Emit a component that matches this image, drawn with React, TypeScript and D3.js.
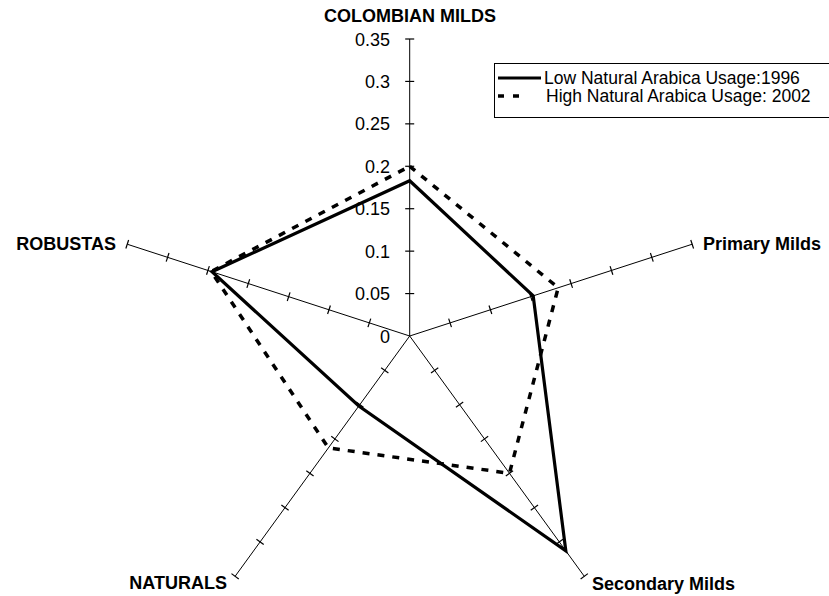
import * as d3 from "d3";

const categories = ["COLOMBIAN MILDS", "Primary Milds", "Secondary Milds", "NATURALS", "ROBUSTAS"];
const low1996 = [0.183, 0.153, 0.313, 0.102, 0.245];
const high2002 = [0.2, 0.184, 0.2, 0.163, 0.246];
const ticks = [0, 0.05, 0.1, 0.15, 0.2, 0.25, 0.3, 0.35];
const seriesNames = ["Low Natural Arabica Usage:1996", "High Natural Arabica Usage: 2002"];

const W = 829;
const H = 596;
const cx = 409.7;
const cy = 336;

export default function App() {
	const r = d3.scaleLinear().domain([0, 0.35]).range([0, 297]);
	const angle = (i: number) => (i * 2 * Math.PI) / categories.length;
	const pt = (i: number, v: number): [number, number] => [
		cx + Math.sin(angle(i)) * r(v),
		cy - Math.cos(angle(i)) * r(v),
	];

	const radial = d3
		.lineRadial<number>()
		.angle((_, i) => angle(i))
		.radius((d) => r(d))
		.curve(d3.curveLinearClosed);

	// label placement per axis: [x, y, anchor]
	const labelPos: [number, number, string][] = [
		[410, 22, "middle"],
		[703, 249.5, "start"],
		[592, 589.5, "start"],
		[227, 589, "end"],
		[116, 250, "end"],
	];

	const font = "'Liberation Sans', Arial, sans-serif";

	return (
		<svg width={W} height={H} style={{ position: "absolute", left: 0, top: 0 }} fontFamily={font}>
			<rect width={W} height={H} fill="#fff" />
			{/* axes */}
			{categories.map((c, i) => {
				const [x2, y2] = pt(i, 0.35);
				const a = angle(i);
				return (
					<g key={c}>
						<line x1={cx} y1={cy} x2={x2} y2={y2} stroke="#000" strokeWidth={1} />
						{ticks.slice(1).map((t) => {
							const [tx, ty] = pt(i, t);
							const px = Math.cos(a) * 4.5;
							const py = Math.sin(a) * 4.5;
							return <line key={t} x1={tx - px} y1={ty - py} x2={tx + px} y2={ty + py} stroke="#000" strokeWidth={1.2} />;
						})}
					</g>
				);
			})}
			{/* tick labels */}
			{ticks.map((t) => (
				<text key={t} x={390} y={cy - r(t) + 6.5} textAnchor="end" fontSize={18} fill="#000">
					{t}
				</text>
			))}
			{/* series */}
			<path d={radial(low1996) || ""} transform={`translate(${cx},${cy})`} fill="none" stroke="#000" strokeWidth={3.2} strokeLinejoin="miter" />
			<path d={radial(high2002) || ""} transform={`translate(${cx},${cy})`} fill="none" stroke="#000" strokeWidth={3.5} strokeDasharray="7,8" />
			{/* category labels */}
			{categories.map((c, i) => (
				<text key={c} x={labelPos[i][0]} y={labelPos[i][1]} textAnchor={labelPos[i][2]} fontSize={18} fontWeight="bold" fill="#000">
					{c}
				</text>
			))}
			{/* legend */}
			<g>
				<rect x={494.5} y={63.5} width={340} height={54} fill="#fff" stroke="#000" strokeWidth={1} />
				<line x1={498} y1={78} x2={541} y2={78} stroke="#000" strokeWidth={3} />
				<text x={544} y={84} fontSize={17.5} fill="#000">{seriesNames[0]}</text>
				<line x1={498} y1={96} x2={520} y2={96} stroke="#000" strokeWidth={3.5} strokeDasharray="6,9" />
				<text x={546} y={102} fontSize={17.5} fill="#000">{seriesNames[1]}</text>
			</g>
		</svg>
	);
}
